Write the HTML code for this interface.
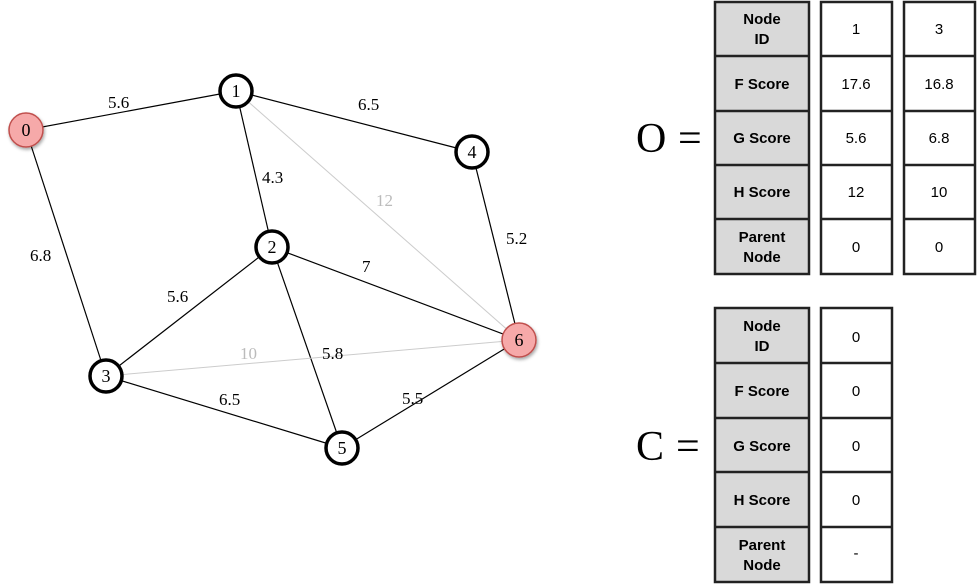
<!DOCTYPE html>
<html><head><meta charset="utf-8"><style>
html,body{margin:0;padding:0;background:#fff;}
svg{display:block;}
.w{font-family:"Liberation Serif",serif;font-size:17px;fill:#000;}
.g{font-family:"Liberation Serif",serif;font-size:17px;fill:#bbb;}
.n{font-family:"Liberation Serif",serif;font-size:18px;fill:#000;text-anchor:middle;dominant-baseline:central;}
.t{font-family:"Liberation Sans",sans-serif;font-size:15px;font-weight:bold;text-anchor:middle;}
.v{font-family:"Liberation Sans",sans-serif;font-size:15px;text-anchor:middle;}
.big{font-family:"Liberation Serif",serif;font-size:42px;}
</style></head><body>
<svg width="978" height="584" viewBox="0 0 978 584" xmlns="http://www.w3.org/2000/svg">
<defs><filter id="sh" x="-50%" y="-50%" width="200%" height="200%"><feDropShadow dx="1" dy="2" stdDeviation="1.5" flood-color="#000" flood-opacity="0.35"/></filter></defs>
<g stroke="#000" stroke-width="1.2">
<line x1="26" y1="130" x2="236" y2="91"/>
<line x1="26" y1="130" x2="106" y2="376"/>
<line x1="236" y1="91" x2="472" y2="152"/>
<line x1="236" y1="91" x2="272" y2="247"/>
<line x1="472" y1="152" x2="519" y2="340"/>
<line x1="272" y1="247" x2="519" y2="340"/>
<line x1="272" y1="247" x2="106" y2="376"/>
<line x1="272" y1="247" x2="342" y2="448"/>
<line x1="106" y1="376" x2="342" y2="448"/>
<line x1="342" y1="448" x2="519" y2="340"/>
</g>
<g stroke="#ccc" stroke-width="1">
<line x1="236" y1="91" x2="519" y2="340"/>
<line x1="106" y1="376" x2="519" y2="340"/>
</g>
<text class="w" x="108" y="108">5.6</text>
<text class="w" x="358" y="110">6.5</text>
<text class="w" x="262" y="183">4.3</text>
<text class="w" x="30" y="261">6.8</text>
<text class="w" x="506" y="244">5.2</text>
<text class="w" x="362" y="272">7</text>
<text class="w" x="167" y="302">5.6</text>
<text class="w" x="322" y="359">5.8</text>
<text class="w" x="219" y="405">6.5</text>
<text class="w" x="402" y="404">5.5</text>
<text class="g" x="376" y="206">12</text>
<text class="g" x="240" y="359">10</text>
<g fill="#fff" stroke="#000" stroke-width="3.5">
<circle cx="236" cy="91" r="16"/>
<circle cx="272" cy="247" r="16"/>
<circle cx="106" cy="376" r="16"/>
<circle cx="472" cy="152" r="16"/>
<circle cx="342" cy="448" r="16"/>
</g>
<g fill="#f6a9a9" stroke="#c0504d" stroke-width="1.5" filter="url(#sh)">
<circle cx="26" cy="130" r="17"/>
<circle cx="519" cy="340" r="17"/>
</g>
<text class="n" x="26" y="130">0</text>
<text class="n" x="236" y="91">1</text>
<text class="n" x="272" y="247">2</text>
<text class="n" x="106" y="376">3</text>
<text class="n" x="472" y="152">4</text>
<text class="n" x="342" y="448">5</text>
<text class="n" x="519" y="340">6</text>

<text class="big" x="636" y="152">O</text>
<text class="big" x="678" y="152">=</text>
<text class="big" x="636" y="460">C</text>
<text class="big" x="676" y="460">=</text>

<g stroke="#222" stroke-width="2.5">
<!-- O table -->
<rect x="715" y="2" width="94" height="272" fill="#d9d9d9"/>
<rect x="821" y="2" width="71" height="272" fill="#fff"/>
<rect x="904" y="2" width="71" height="272" fill="#fff"/>
<line x1="715" y1="56" x2="809" y2="56"/><line x1="715" y1="111" x2="809" y2="111"/><line x1="715" y1="165" x2="809" y2="165"/><line x1="715" y1="219" x2="809" y2="219"/>
<line x1="821" y1="56" x2="892" y2="56"/><line x1="821" y1="111" x2="892" y2="111"/><line x1="821" y1="165" x2="892" y2="165"/><line x1="821" y1="219" x2="892" y2="219"/>
<line x1="904" y1="56" x2="975" y2="56"/><line x1="904" y1="111" x2="975" y2="111"/><line x1="904" y1="165" x2="975" y2="165"/><line x1="904" y1="219" x2="975" y2="219"/>
<!-- C table -->
<rect x="715" y="308" width="94" height="274" fill="#d9d9d9"/>
<rect x="821" y="308" width="71" height="274" fill="#fff"/>
<line x1="715" y1="363" x2="809" y2="363"/><line x1="715" y1="418" x2="809" y2="418"/><line x1="715" y1="472" x2="809" y2="472"/><line x1="715" y1="527" x2="809" y2="527"/>
<line x1="821" y1="363" x2="892" y2="363"/><line x1="821" y1="418" x2="892" y2="418"/><line x1="821" y1="472" x2="892" y2="472"/><line x1="821" y1="527" x2="892" y2="527"/>
</g>
<g>
<text class="t" x="762" y="24">Node</text><text class="t" x="762" y="44">ID</text>
<text class="t" x="762" y="89">F Score</text>
<text class="t" x="762" y="143">G Score</text>
<text class="t" x="762" y="197">H Score</text>
<text class="t" x="762" y="242">Parent</text><text class="t" x="762" y="262">Node</text>
<text class="v" x="856" y="34">1</text><text class="v" x="939" y="34">3</text>
<text class="v" x="856" y="89">17.6</text><text class="v" x="939" y="89">16.8</text>
<text class="v" x="856" y="143">5.6</text><text class="v" x="939" y="143">6.8</text>
<text class="v" x="856" y="197">12</text><text class="v" x="939" y="197">10</text>
<text class="v" x="856" y="252">0</text><text class="v" x="939" y="252">0</text>

<text class="t" x="762" y="331">Node</text><text class="t" x="762" y="351">ID</text>
<text class="t" x="762" y="396">F Score</text>
<text class="t" x="762" y="451">G Score</text>
<text class="t" x="762" y="505">H Score</text>
<text class="t" x="762" y="550">Parent</text><text class="t" x="762" y="570">Node</text>
<text class="v" x="856" y="342">0</text>
<text class="v" x="856" y="396">0</text>
<text class="v" x="856" y="451">0</text>
<text class="v" x="856" y="505">0</text>
<text class="v" x="856" y="558">-</text>
</g>
</svg>
</body></html>
